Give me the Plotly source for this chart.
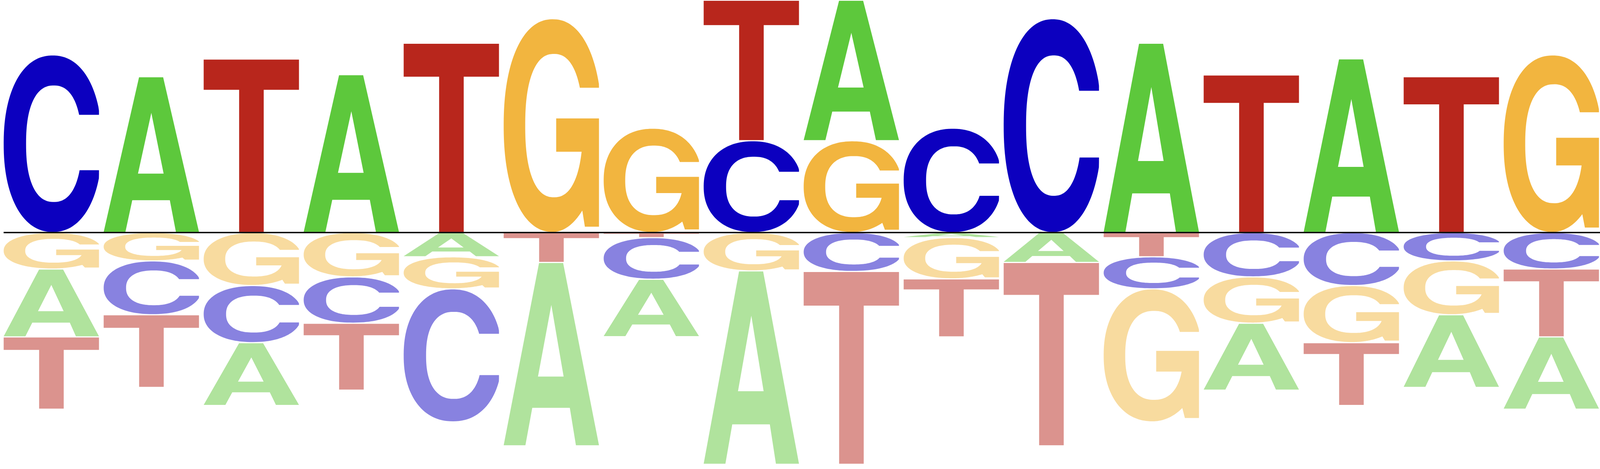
import numpy as np
import plotly.graph_objects as go

positions = list(range(16))
bases = ['A', 'C', 'G', 'T']

# letter heights per position (positive above the line, negative below)
A_vals = [-0.579, 1.329, -0.536, 1.347, -0.207, -1.564, -0.490, -1.650,
          1.199, -0.043, -0.255, 1.615, -0.571, 1.482, -0.620, -0.617]
C_vals = [1.515, -0.459, -0.487, -0.395, -1.135, 0.0, -0.355, 0.783,
          -0.332, 0.890, 1.824, -0.273, -0.378, -0.452, -0.242, -0.311]
G_vals = [-0.311, -0.242, -0.452, -0.378, -0.273, 1.824, 0.890, -0.327,
          0.783, -0.352, 0.0, -1.135, -0.395, -0.487, -0.459, 1.515]
T_vals = [-0.617, -0.620, 1.480, -0.571, 1.615, -0.255, -0.043, 1.199,
          -1.645, -0.495, -1.564, -0.207, 1.344, -0.536, 1.329, -0.579]

pos_colors = {'A': '#5DC83C', 'C': '#0C00BF', 'G': '#F2B53F', 'T': '#B8261C'}
neg_colors = {'A': '#B0E39D', 'C': '#8882E0', 'G': '#F8DB9F', 'T': '#DB938E'}

SQ_OUT = 2.2   # superellipse exponents for the round letters
SQ_IN = 2.35


def arc(cx, cy, rx, ry, a0, a1, n=2.0, npts=120):
    t = np.radians(np.linspace(a0, a1, npts))
    c, s = np.cos(t), np.sin(t)
    x = cx + rx*np.sign(c)*np.abs(c)**(2/n)
    y = cy + ry*np.sign(s)*np.abs(s)**(2/n)
    return list(zip(x, y))


def ang(f, n):
    # angle where the superellipse reaches height fraction f
    return np.degrees(np.arcsin(np.sign(f)*abs(f)**(n/2)))


def glyph(letter):
    # outlines in a unit box, list of rings
    if letter == 'T':
        return [[(0, 1), (1, 1), (1, 0.825), (0.63, 0.825), (0.63, 0),
                 (0.372, 0), (0.372, 0.825), (0, 0.825)]]
    if letter == 'A':
        outer = [(0, 0), (0.228, 0), (0.30, 0.205), (0.694, 0.205), (0.758, 0),
                 (1, 0), (0.624, 1), (0.371, 1)]
        hole = [(0.36, 0.377), (0.629, 0.377), (0.5, 0.77)]
        return [outer, hole]
    if letter == 'C':
        ou = ang((0.664-0.5)/0.5, SQ_OUT)
        ol = 360 + ang((0.35-0.5)/0.5, SQ_OUT)
        iu = ang((0.664-0.5)/0.33, SQ_IN)
        il = 360 + ang((0.35-0.5)/0.33, SQ_IN)
        pts = arc(0.515, 0.5, 0.515, 0.5, ou, ol, SQ_OUT)
        pts = [(min(x, 1.0), y) for x, y in pts]
        pts += arc(0.526, 0.5, 0.291, 0.33, il, iu, SQ_IN)
        return [pts]
    # G
    ou = ang((0.678-0.5)/0.5, SQ_OUT)
    oe = 360 - np.degrees(np.arccos(0.31/0.515))
    ib = ang((0.377-0.5)/0.337, SQ_IN)
    iu = ang((0.678-0.5)/0.337, SQ_IN) - 360
    pts = arc(0.515, 0.5, 0.515, 0.5, ou, 270, SQ_OUT)
    pts += arc(0.515, 0.5, 0.515, 0.5, 270, oe, 2.0, 40)
    pts = [(min(x, 1.0), y) for x, y in pts]
    pts += [(0.852, 0.025), (1.0, 0.025), (1.0, 0.534), (0.551, 0.534), (0.551, 0.377)]
    pts += arc(0.528, 0.5, 0.302, 0.337, ib, iu, SQ_IN)
    return [pts]


def letter_path(letter, xc, y0, y1, width=0.953):
    path = ''
    for ring in glyph(letter):
        pts = ['%.5f,%.5f' % (xc - width/2 + x*width, y0 + y*(y1 - y0)) for x, y in ring]
        path += 'M' + 'L'.join(pts) + 'Z'
    return path


vals = {'A': A_vals, 'C': C_vals, 'G': G_vals, 'T': T_vals}
pad = 0.005
shapes = []
for k in positions:
    col = [(vals[b][k], b) for b in bases]
    ups = sorted([c for c in col if c[0] > 0])
    downs = sorted([c for c in col if c[0] < 0], key=lambda c: -c[0])
    y = 0.0
    for v, b in ups:
        shapes.append(dict(type='path', path=letter_path(b, k, y + pad, y + v - pad),
                           xref='x', yref='y', fillcolor=pos_colors[b],
                           line=dict(width=0), fillrule='evenodd', layer='above'))
        y += v
    y = 0.0
    for v, b in downs:
        shapes.append(dict(type='path', path=letter_path(b, k, y + v + pad, y - pad),
                           xref='x', yref='y', fillcolor=neg_colors[b],
                           line=dict(width=0), fillrule='evenodd', layer='above'))
        y += v

shapes.append(dict(type='line', x0=-0.477, x1=15.5, y0=0, y1=0, xref='x', yref='y',
                   line=dict(color='black', width=3.3), layer='above'))

fig = go.Figure()
fig.add_trace(go.Scatter(x=positions, y=[0]*16, mode='markers',
                         marker=dict(opacity=0), hoverinfo='skip'))
fig.update_layout(shapes=shapes, autosize=True,
                  margin=dict(l=0, r=0, t=0, b=0),
                  plot_bgcolor='white', paper_bgcolor='white', showlegend=False,
                  xaxis=dict(visible=False, range=[-0.5133, 15.4867]),
                  yaxis=dict(visible=False, range=[-2.0167, 1.9833]))
fig.write_html("out.html", default_width='100vw', default_height='100vh',
               config={'displayModeBar': False, 'staticPlot': True},
               post_script="document.body.style.margin='0';document.body.style.overflow='hidden';")
